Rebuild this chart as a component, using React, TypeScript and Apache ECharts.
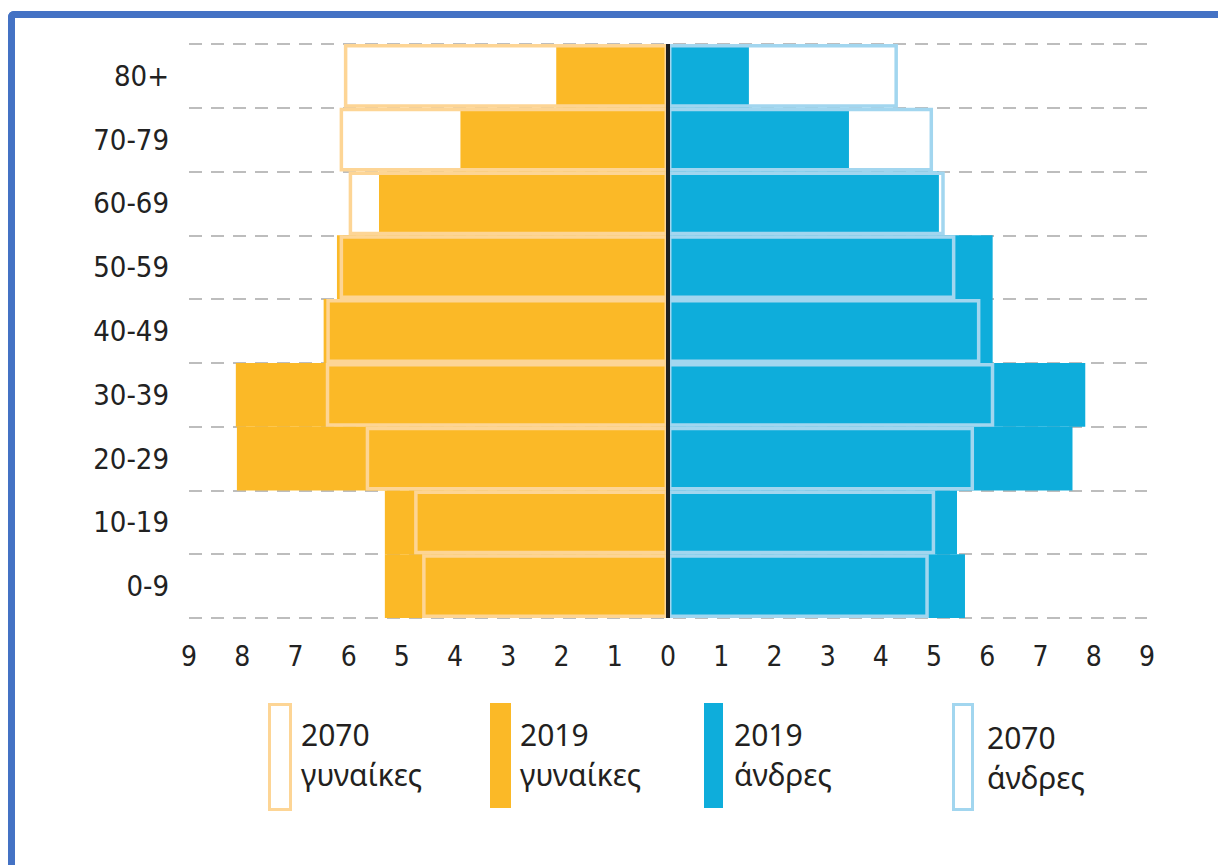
import React, { useEffect, useRef } from "react";
import * as echarts from "echarts";

// Age groups, bottom to top
const ageGroups = ["0-9", "10-19", "20-29", "30-39", "40-49", "50-59", "60-69", "70-79", "80+"];
// Percent of population
const women2019 = [5.32, 5.32, 8.1, 8.12, 6.47, 6.22, 5.43, 3.9, 2.1];
const women2070 = [4.62, 4.77, 5.68, 6.43, 6.42, 6.17, 6.0, 6.17, 6.09];
const men2019 = [5.58, 5.43, 7.6, 7.84, 6.1, 6.1, 5.09, 3.4, 1.52];
const men2070 = [4.9, 5.02, 5.75, 6.13, 5.87, 5.4, 5.2, 4.98, 4.32];

const legendLines = [
  ["2070", "γυναίκες"],
  ["2019", "γυναίκες"],
  ["2019", "άνδρες"],
  ["2070", "άνδρες"],
];

const ORANGE = "#FBB927";
const ORANGE_LIGHT = "#FDD595";
const BLUE = "#0EADDB";
const BLUE_LIGHT = "#A2D6EF";
const LABEL_FONT = "'Liberation Sans Narrow', 'DejaVu Sans Condensed', sans-serif";
const TEXT_FONT = "'Noto Sans', 'DejaVu Sans', sans-serif";

export default function App() {
  const ref = useRef<HTMLDivElement>(null);

  useEffect(() => {
    if (!ref.current) return;
    const chart = echarts.init(ref.current, undefined, { renderer: "svg" });

    const legendX = [268, 490, 704, 952];
    const legendTextX = [301, 520, 734, 987];
    const legendTextY = [714, 714, 714, 717];
    const legendStyles = [
      { fill: "#fff", stroke: ORANGE_LIGHT, lineWidth: 3 },
      { fill: ORANGE, stroke: ORANGE, lineWidth: 0 },
      { fill: BLUE, stroke: BLUE, lineWidth: 0 },
      { fill: "#fff", stroke: BLUE_LIGHT, lineWidth: 3 },
    ];
    const legendW = [21, 21, 19, 19];
    const graphic: any[] = [];
    legendLines.forEach((lines, i) => {
      graphic.push({
        type: "rect",
        left: legendX[i],
        top: 703,
        shape: { width: legendW[i], height: 105 },
        style: legendStyles[i],
      });
      graphic.push({
        type: "text",
        left: legendTextX[i],
        top: legendTextY[i],
        style: {
          text: lines.join("\n"),
          font: `30px ${TEXT_FONT}`,
          lineHeight: 40,
          fill: "#231f20",
        },
      });
    });

    const bar = (name: string, data: number[], style: any, extra: any = {}) => ({
      name,
      type: "bar",
      data,
      barWidth: "100%",
      barGap: "-100%",
      itemStyle: style,
      silent: true,
      ...extra,
    });

    chart.setOption({
      animation: false,
      grid: { left: 189, right: 71, top: 44, bottom: 247, containLabel: false },
      xAxis: {
        type: "value",
        min: -9,
        max: 9,
        interval: 1,
        axisLine: { show: false },
        axisTick: { show: false },
        splitLine: { show: false },
        axisLabel: {
          formatter: (v: number) => String(Math.abs(v)),
          fontFamily: LABEL_FONT,
          fontSize: 28,
          color: "#222",
          margin: 24,
        },
      },
      yAxis: {
        type: "category",
        data: ageGroups,
        axisLine: { show: false },
        axisTick: { show: false },
        axisLabel: {
          fontFamily: LABEL_FONT,
          fontSize: 29,
          color: "#222",
          margin: 20,
        },
        splitLine: {
          show: true,
          interval: 0,
          lineStyle: { color: "#bdbdbd", width: 2, type: [13, 9] },
        },
      },
      series: [
        bar("2019 γυναίκες", women2019.map((v) => -v), { color: ORANGE }, {
          markLine: {
            silent: true,
            symbol: "none",
            label: { show: false },
            lineStyle: { color: "#1e1e1e", width: 4, type: "solid" },
            data: [{ xAxis: 0 }],
          },
        }),
        bar("2019 άνδρες", men2019, { color: BLUE }),
        bar("2070 γυναίκες", women2070.map((v) => -v), {
          color: "rgba(255,255,255,0)",
          borderColor: ORANGE_LIGHT,
          borderWidth: 3.5,
        }),
        bar("2070 άνδρες", men2070, {
          color: "rgba(255,255,255,0)",
          borderColor: BLUE_LIGHT,
          borderWidth: 3.5,
        }),
      ],
      graphic,
    });

    return () => chart.dispose();
  }, []);

  return (
    <div
      style={{
        position: "fixed",
        left: 0,
        top: 0,
        width: 1218,
        height: 865,
        overflow: "hidden",
        background: "#fff",
      }}
    >
      <div
        style={{
          position: "absolute",
          left: 8,
          top: 11,
          width: 1400,
          height: 1000,
          borderTop: "7px solid #4472C4",
          borderLeft: "7px solid #4472C4",
          borderTopLeftRadius: 6,
          boxSizing: "border-box",
        }}
      />
      <div ref={ref} style={{ position: "absolute", left: 0, top: 0, width: 1218, height: 865 }} />
    </div>
  );
}
